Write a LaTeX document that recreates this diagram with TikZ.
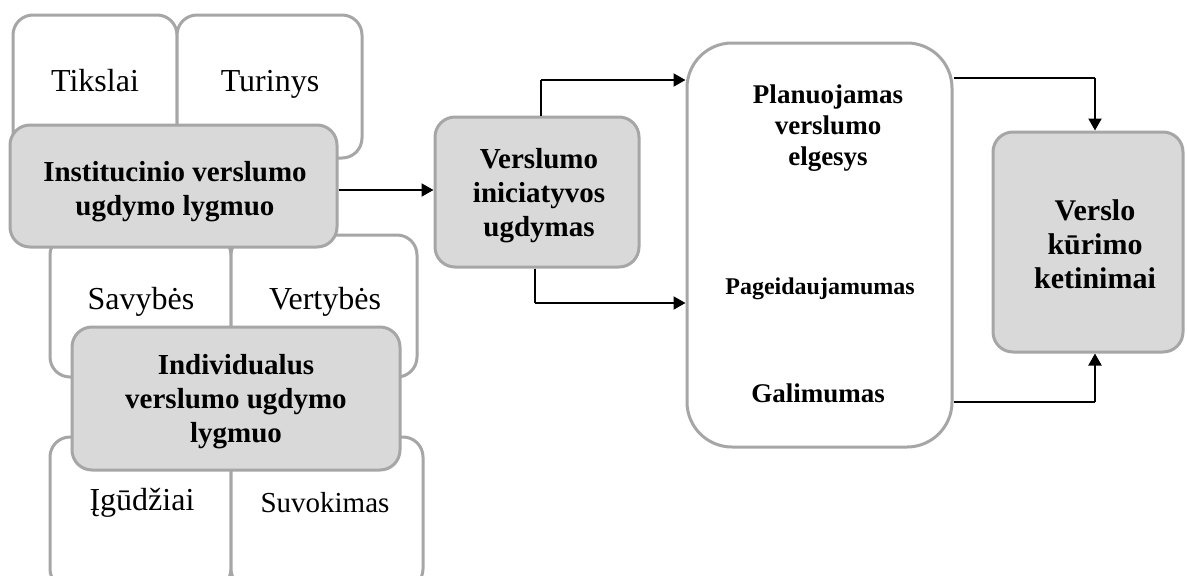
\documentclass[tikz,border=0pt]{standalone}
\usepackage{fontspec}
\setmainfont{Liberation Serif}
\usetikzlibrary{arrows.meta}
\definecolor{bord}{HTML}{A6A6A6}
\definecolor{gfill}{HTML}{D9D9D9}
\tikzset{
  wbox/.style={draw=bord, line width=3pt, fill=white, rounded corners=20pt, inner sep=0pt},
  gbox/.style={draw=bord, line width=3pt, fill=gfill, rounded corners=20pt, inner sep=0pt},
  gtxt/.style={inner sep=0pt, align=center, font=\fontsize{29}{34}\selectfont\bfseries},
  bigbox/.style={draw=bord, line width=3pt, fill=white, rounded corners=45pt, inner sep=0pt},
  reg/.style={font=\fontsize{32}{36}\selectfont, inner sep=0pt, anchor=base},
  btxt/.style={font=\fontsize{27}{31}\selectfont\bfseries, inner sep=0pt, align=center},
  arr/.style={line width=2pt, -{Triangle[length=12pt,width=13pt]}},
  ln/.style={line width=2pt},
}
\begin{document}
\begin{tikzpicture}[x=1pt,y=-1pt]
\clip (0,0) rectangle (1187,576);
\fill[white] (0,0) rectangle (1187,576);
% white boxes (left)
\node[wbox, minimum width=164pt, minimum height=143pt] (tik) at (95,86.5) {};
\node[wbox, minimum width=185pt, minimum height=143pt] (tur) at (269.5,86.5) {};
\node[wbox, minimum width=181pt, minimum height=142pt] (sav) at (140.5,306) {};
\node[wbox, minimum width=186pt, minimum height=142pt] (ver) at (324,306) {};
\node[wbox, minimum width=181pt, minimum height=152pt] (igu) at (140.5,513) {};
\node[wbox, minimum width=192pt, minimum height=152pt] (suv) at (327,513) {};
\node[reg] (tikt) at (95,91) {Tikslai};
\node[reg] (turt) at (270,91) {Turinys};
\node[reg] (savt) at (141,309) {Savybės};
\node[reg] (vert) at (325,309) {Vertybės};
\node[reg] (igut) at (142,510) {Įgūdžiai};
\node[reg, font=\fontsize{29}{34}\selectfont] (suvt) at (325,512) {Suvokimas};
% gray boxes
\node[gbox, minimum width=327pt, minimum height=122pt] (inst) at (173.5,186) {};
\node[gtxt] (instt) at (175,192) {Institucinio verslumo\\ugdymo lygmuo};
\node[gbox, minimum width=328pt, minimum height=143pt] (ind) at (236,398.5) {};
\node[gtxt] (indt) at (236,402) {Individualus\\verslumo ugdymo\\lygmuo};
\node[gbox, minimum width=204pt, minimum height=150pt] (vin) at (537,192) {};
\node[gtxt] (vint) at (539,196) {Verslumo\\iniciatyvos\\ugdymas};
\node[bigbox, minimum width=265pt, minimum height=404pt] (big) at (819.5,245) {};
\node[btxt] (plan) at (828,128) {Planuojamas\\verslumo\\elgesys};
\node[btxt, font=\fontsize{24}{30}\selectfont\bfseries] (pag) at (820,289) {Pageidaujamumas};
\node[btxt] (gal) at (818,393) {Galimumas};
\node[gbox, minimum width=190pt, minimum height=220pt] (vk) at (1088,242) {};
\node[gtxt, font=\fontsize{30}{34}\selectfont\bfseries] (vkt) at (1095,244) {Verslo\\kūrimo\\ketinimai};
% connectors
\draw[arr] (inst.east |- 0,190) -- (vin.west |- 0,190);
\coordinate (u1) at (541,80);
\draw[ln] (vin.north -| u1) -- (u1);
\draw[arr] (u1) -- (big.west |- u1);
\coordinate (d1) at (535,303);
\draw[ln] (vin.south -| d1) -- (d1);
\draw[arr] (d1) -- (big.west |- d1);
\coordinate (r1) at (1095,78);
\draw[ln] (big.east |- r1) -- (r1);
\draw[arr] (r1) -- (vk.north -| r1);
\coordinate (r2) at (1095,402);
\draw[ln] (big.east |- r2) -- (r2);
\draw[arr] (r2) -- (vk.south -| r2);
\end{tikzpicture}
\end{document}
